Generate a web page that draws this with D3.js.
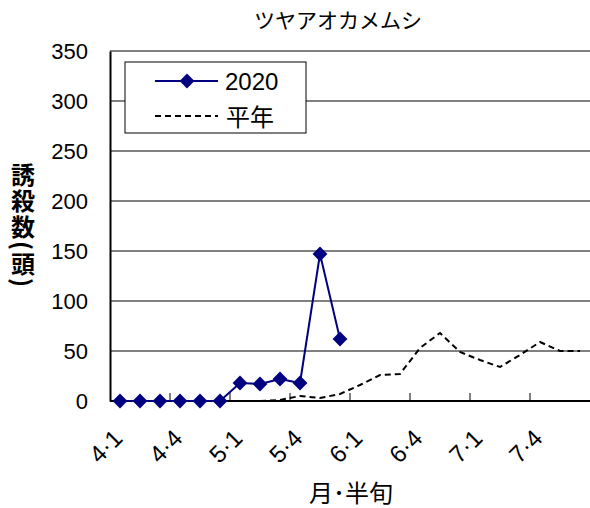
<!DOCTYPE html>
<html lang="ja">
<head>
<meta charset="UTF-8">
<title>ツヤアオカメムシ</title>
<script src="https://d3js.org/d3.v7.min.js"></script>
<style>
  body { margin: 0; background: #fff; }
  text { font-family: "Liberation Sans", Arial, "Noto Sans CJK JP", sans-serif; fill: #000; }
  .jp { font-family: "Noto Sans CJK JP", sans-serif; }
</style>
</head>
<body>
<div id="chart"></div>
<script>
    // 4月1半旬 〜 7月6半旬
    const months = [4, 5, 6, 7];
    const categories = months.flatMap(m => [1, 2, 3, 4, 5, 6].map(h => m + "·" + h));
    const tickLabels = ["4·1", "4·4", "5·1", "5·4", "6·1", "6·4", "7·1", "7·4"];

    const values2020 = [0, 0, 0, 0, 0, 0, 18, 17, 22, 18, 147, 62];
    const valuesAvg = [0, 0, 0, 0, 0, 0, 0, 0, 1, 5, 3, 7, 16, 26, 27, 53, 68, 49, 41, 34, 46, 59, 50, 50];
    const yTicks = [0, 50, 100, 150, 200, 250, 300, 350];

    const width = 590, height = 508;
    const margin = {top: 51, right: 0, bottom: 107, left: 110};
    const innerW = width - margin.left - margin.right;
    const innerH = height - margin.top - margin.bottom;

    const svg = d3.select("#chart")
        .append("svg")
        .attr("width", width)
        .attr("height", height);

    const g = svg.append("g")
        .attr("transform", `translate(${margin.left},${margin.top})`);

    const x = d3.scaleBand()
        .domain(categories)
        .range([0, innerW]);

    const y = d3.scaleLinear()
        .domain([0, 350])
        .range([innerH, 0]);

    const cx = d => x(d) + x.bandwidth() / 2;

    // grid
    g.selectAll(".grid")
        .data(yTicks.filter(t => t > 0))
        .enter()
        .append("line")
        .attr("x1", 0)
        .attr("x2", innerW)
        .attr("y1", d => y(d))
        .attr("y2", d => y(d))
        .attr("stroke", "#808080")
        .attr("stroke-width", 2);

    // y axis
    const yAxis = g.append("g")
        .call(d3.axisLeft(y).tickValues(yTicks).tickSize(0).tickPadding(22));
    yAxis.select(".domain").attr("stroke", "#000").attr("stroke-width", 2);
    yAxis.selectAll("text").style("font-size", "22px").attr("fill", "#000");

    // x axis
    const xAxis = g.append("g")
        .attr("transform", `translate(0,${innerH})`);
    xAxis.append("line")
        .attr("x1", 0).attr("x2", innerW)
        .attr("stroke", "#000").attr("stroke-width", 2);
    xAxis.selectAll(".tick")
        .data(categories.filter((c, i) => i % 3 === 0 && i > 0))
        .enter()
        .append("line")
        .attr("x1", d => x(d)).attr("x2", d => x(d))
        .attr("y1", 0).attr("y2", -8)
        .attr("stroke", "#000").attr("stroke-width", 1);
    xAxis.selectAll(".lbl")
        .data(tickLabels)
        .enter()
        .append("text")
        .attr("transform", d => `translate(${cx(d) - 8},${27}) rotate(-45)`)
        .attr("text-anchor", "end")
        .attr("dy", "0.7em")
        .style("font-size", "24px")
        .text(d => d);

    // 平年
    const line = d3.line()
        .x((d, i) => cx(categories[i]))
        .y(d => y(d));

    g.append("path")
        .datum(valuesAvg)
        .attr("d", line)
        .attr("fill", "none")
        .attr("stroke", "#000")
        .attr("stroke-width", 2)
        .attr("stroke-dasharray", "6,4");

    // 2020
    g.append("path")
        .datum(values2020)
        .attr("d", line)
        .attr("fill", "none")
        .attr("stroke", "#000080")
        .attr("stroke-width", 2);

    const diamond = d3.symbol().type(d3.symbolDiamond2).size(140);
    g.selectAll(".pt")
        .data(values2020)
        .enter()
        .append("path")
        .attr("d", diamond)
        .attr("transform", (d, i) => `translate(${cx(categories[i])},${y(d)})`)
        .attr("fill", "#000080");

    // legend
    const lg = svg.append("g").attr("transform", "translate(125,62)");
    lg.append("rect")
        .attr("width", 181).attr("height", 71)
        .attr("fill", "#fff").attr("stroke", "#000").attr("stroke-width", 1);
    lg.append("line")
        .attr("x1", 30).attr("x2", 93).attr("y1", 19).attr("y2", 19)
        .attr("stroke", "#000080").attr("stroke-width", 2);
    lg.append("path")
        .attr("d", diamond)
        .attr("transform", "translate(62,19)")
        .attr("fill", "#000080");
    lg.append("text")
        .attr("x", 100).attr("y", 28)
        .style("font-size", "24px")
        .text("2020");
    lg.append("line")
        .attr("x1", 30).attr("x2", 93).attr("y1", 54).attr("y2", 54)
        .attr("stroke", "#000").attr("stroke-width", 2)
        .attr("stroke-dasharray", "6,4");
    lg.append("text")
        .attr("class", "jp")
        .attr("x", 101).attr("y", 64)
        .style("font-size", "24px")
        .text("平年");

    // titles
    svg.append("text")
        .attr("class", "jp")
        .attr("x", 338).attr("y", 28)
        .attr("text-anchor", "middle")
        .style("font-size", "21px")
        .text("ツヤアオカメムシ");

    svg.append("text")
        .attr("class", "jp")
        .attr("x", 351).attr("y", 502)
        .attr("text-anchor", "middle")
        .style("font-size", "24px")
        .text("月･半旬");

    svg.append("text")
        .attr("class", "jp")
        .attr("transform", "translate(23,226)")
        .attr("text-anchor", "middle")
        .style("font-size", "24px")
        .style("font-weight", "bold")
        .style("letter-spacing", "2px")
        .style("writing-mode", "vertical-rl")
        .text("誘殺数(頭)");
</script>
</body>
</html>
